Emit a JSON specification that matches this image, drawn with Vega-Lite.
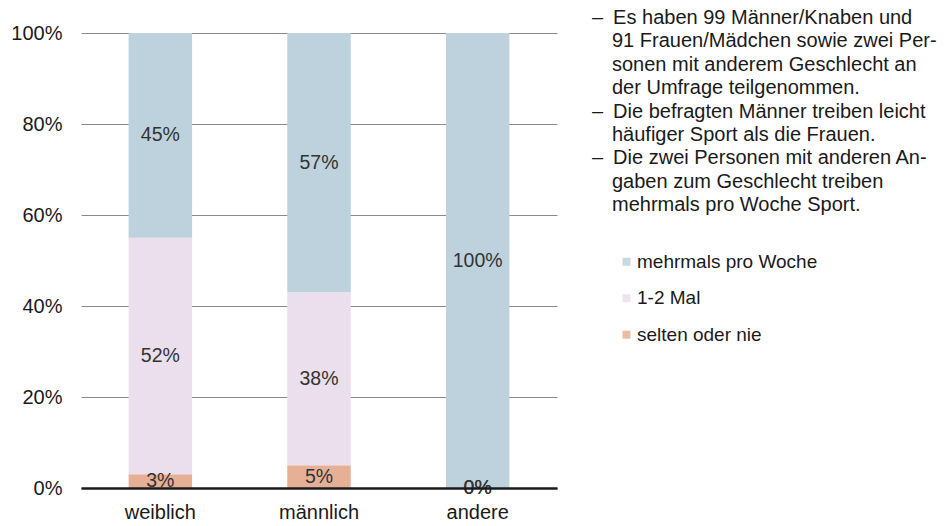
{
  "$schema": "https://vega.github.io/schema/vega-lite/v6.json",
  "autosize": "none",
  "width": 476,
  "height": 455,
  "padding": {"left": 81, "top": 33, "right": 392, "bottom": 38},
  "background": "white",
  "config": {"font": "Liberation Sans", "view": {"stroke": null}},
  "data": {
    "values": [
      {"gender": "weiblich", "freq": "selten oder nie", "share": 0.03},
      {"gender": "weiblich", "freq": "1-2 Mal", "share": 0.52},
      {"gender": "weiblich", "freq": "mehrmals pro Woche", "share": 0.45},
      {"gender": "männlich", "freq": "selten oder nie", "share": 0.05},
      {"gender": "männlich", "freq": "1-2 Mal", "share": 0.38},
      {"gender": "männlich", "freq": "mehrmals pro Woche", "share": 0.57},
      {"gender": "andere", "freq": "selten oder nie", "share": 0.0},
      {"gender": "andere", "freq": "1-2 Mal", "share": 0.0},
      {"gender": "andere", "freq": "mehrmals pro Woche", "share": 1.0}
    ]
  },
  "transform": [
    {"stack": "share", "groupby": ["gender"], "as": ["y0", "y1"]}
  ],
  "encoding": {
    "x": {
      "field": "gender",
      "type": "nominal",
      "sort": ["weiblich", "männlich", "andere"],
      "scale": {"paddingInner": 0.6, "paddingOuter": 0.3},
      "axis": {
        "title": null,
        "labelAngle": 0,
        "labelFontSize": 20,
        "labelColor": "#1a1a1a",
        "labelPadding": 14,
        "ticks": false,
        "domainColor": "#1a1a1a",
        "domainWidth": 2.5,
        "zindex": 1
      }
    }
  },
  "layer": [
    {
      "mark": {"type": "bar"},
      "encoding": {
        "y": {
          "field": "y1",
          "type": "quantitative",
          "scale": {"domain": [0, 1]},
          "axis": {
            "title": null,
            "format": ".0%",
            "values": [0, 0.2, 0.4, 0.6, 0.8, 1],
            "labelFontSize": 20,
            "labelColor": "#1a1a1a",
            "labelPadding": 19,
            "ticks": false,
            "domain": false,
            "gridColor": "#8a8a8a",
            "gridWidth": 1,
            "zindex": 0
          }
        },
        "y2": {"field": "y0"},
        "color": {
          "field": "freq",
          "type": "nominal",
          "scale": {
            "domain": ["mehrmals pro Woche", "1-2 Mal", "selten oder nie"],
            "range": ["#bdd2dd", "#ebdfed", "#e6b096"]
          },
          "legend": {
            "orient": "none",
            "legendX": 511,
            "legendY": -25,
            "title": [
              "–\u2002Es haben 99 Männer/Knaben und",
              "\u200b\u2002\u200291 Frauen/Mädchen sowie zwei Per-",
              "\u200b\u2002\u2002sonen mit anderem Geschlecht an",
              "\u200b\u2002\u2002der Umfrage teilgenommen.",
              "–\u2002Die befragten Männer treiben leicht",
              "\u200b\u2002\u2002häufiger Sport als die Frauen.",
              "–\u2002Die zwei Personen mit anderen An-",
              "\u200b\u2002\u2002gaben zum Geschlecht treiben",
              "\u200b\u2002\u2002mehrmals pro Woche Sport."
            ],
            "titleFontSize": 20,
            "titleFontWeight": "normal",
            "titleColor": "#1a1a1a",
            "titleLineHeight": 23.4,
            "titleLimit": 1000,
            "titlePadding": 37,
            "titleBaseline": "top",
            "padding": 0,
            "symbolType": "square",
            "symbolSize": 64,
            "symbolOffset": 25,
            "symbolStrokeWidth": 0,
            "symbolOpacity": 0.85,
            "labelFontSize": 19,
            "labelColor": "#1a1a1a",
            "labelOffset": 1,
            "labelLimit": 400,
            "rowPadding": 16.5
          }
        }
      }
    },
    {
      "transform": [
        {"fold": ["y0", "y1"], "as": ["end", "pos"]},
        {"aggregate": [{"op": "mean", "field": "pos", "as": "mid"}], "groupby": ["gender", "freq", "share"]}
      ],
      "mark": {"type": "text", "fontSize": 19.5, "color": "#333333", "baseline": "middle", "align": "center"},
      "encoding": {
        "y": {"field": "mid", "type": "quantitative"},
        "text": {"field": "share", "type": "quantitative", "format": ".0%"}
      }
    }
  ]
}
